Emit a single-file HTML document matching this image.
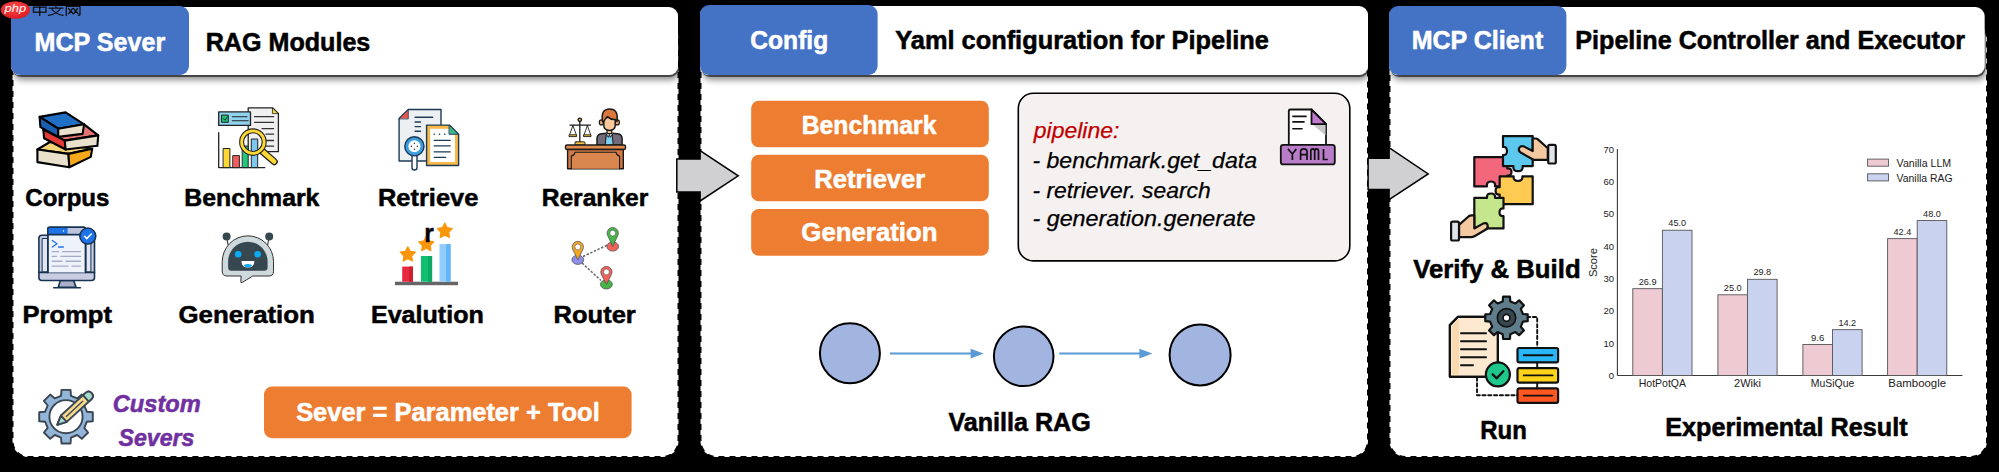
<!DOCTYPE html>
<html><head><meta charset="utf-8"><title>diagram</title>
<style>html,body{margin:0;padding:0;background:#000;width:1999px;height:472px;overflow:hidden}svg{display:block}text{font-family:"Liberation Sans", sans-serif}</style>
</head><body>
<svg width="1999" height="472" viewBox="0 0 1999 472">
<defs>
<filter id="hsh" x="-5%" y="-30%" width="110%" height="170%">
<feOffset in="SourceAlpha" dx="0.8" dy="1.6" result="o1"/>
<feGaussianBlur in="o1" stdDeviation="0.7" result="b1"/>
<feComponentTransfer in="b1" result="s1"><feFuncA type="linear" slope="0.55"/></feComponentTransfer>
<feOffset in="SourceAlpha" dx="2" dy="4.5" result="o2"/>
<feGaussianBlur in="o2" stdDeviation="3.2" result="b2"/>
<feComponentTransfer in="b2" result="s2"><feFuncA type="linear" slope="0.45"/></feComponentTransfer>
<feMerge><feMergeNode in="s2"/><feMergeNode in="s1"/><feMergeNode in="SourceGraphic"/></feMerge>
</filter>
</defs>
<rect x="0" y="0" width="1999" height="472" fill="#000"/>
<rect x="12.5" y="22" width="666.0" height="435" rx="16" fill="#fff" stroke="#000" stroke-width="2" stroke-dasharray="6 5"/>
<rect x="700.5" y="22" width="667.5" height="435" rx="16" fill="#fff" stroke="#000" stroke-width="2" stroke-dasharray="6 5"/>
<rect x="1389.5" y="22" width="597.5" height="435" rx="16" fill="#fff" stroke="#000" stroke-width="2" stroke-dasharray="6 5"/>
<rect x="11" y="7" width="667" height="68" rx="9" fill="#fff" filter="url(#hsh)"/>
<rect x="11" y="6" width="178" height="69" rx="9" fill="#4472c4"/>
<rect x="700" y="6" width="668" height="69" rx="9" fill="#fff" filter="url(#hsh)"/>
<rect x="700" y="5" width="177.60000000000002" height="70" rx="9" fill="#4472c4"/>
<rect x="1389" y="7" width="595.5" height="68" rx="9" fill="#fff" filter="url(#hsh)"/>
<rect x="1389" y="6" width="177.4000000000001" height="69" rx="9" fill="#4472c4"/>
<path d="M676.8,159 H700.1 V150.6 L738.2,175.8 L700.1,201 V192 H676.8 Z" fill="#d0cfd2" stroke="#000" stroke-width="1.5" stroke-linejoin="miter"/>
<path d="M1368.1,158.2 H1389.1 V147.6 L1428.2,173.9 L1389.1,199.7 V189.5 H1368.1 Z" fill="#d0cfd2" stroke="#000" stroke-width="1.5" stroke-linejoin="miter"/>
<rect x="751.2" y="100.7" width="237.6" height="46.60000000000001" rx="7.5" fill="#ed7d31"/>
<rect x="751.2" y="154.8" width="237.6" height="46.5" rx="7.5" fill="#ed7d31"/>
<rect x="751.2" y="209" width="237.6" height="46.80000000000001" rx="7.5" fill="#ed7d31"/>
<rect x="1018.3" y="93.3" width="331.5" height="167.6" rx="15" fill="#f5f1f1" stroke="#000" stroke-width="1.6"/>
<circle cx="849.9" cy="353.3" r="30" fill="#a2b5e0" stroke="#000" stroke-width="2"/>
<circle cx="1023.7" cy="356.3" r="29.8" fill="#a2b5e0" stroke="#000" stroke-width="2"/>
<circle cx="1200.1" cy="354.9" r="30.5" fill="#a2b5e0" stroke="#000" stroke-width="2"/>
<line x1="889.9" y1="353.6" x2="972.6" y2="353.6" stroke="#5b9bd5" stroke-width="2"/>
<path d="M970.6,348.8 L983.6,353.6 L970.6,358.4 Z" fill="#5b9bd5"/>
<line x1="1059.3" y1="353.6" x2="1141.4" y2="353.6" stroke="#5b9bd5" stroke-width="2"/>
<path d="M1139.4,348.8 L1152.4,353.6 L1139.4,358.4 Z" fill="#5b9bd5"/>
<rect x="264" y="386.6" width="367.6" height="51.6" rx="8" fill="#ed7d31"/>
<defs><radialGradient id="wmg" cx="0.45" cy="0.35" r="0.7"><stop offset="0" stop-color="#ff4a4a"/><stop offset="1" stop-color="#d8161c"/></radialGradient></defs>
<ellipse cx="15.4" cy="10" rx="14.6" ry="8.8" fill="url(#wmg)"/>
<text x="4.6" y="11.6" font-size="11.5" font-style="italic" fill="#fff" textLength="21.5" lengthAdjust="spacingAndGlyphs">php</text>
<g fill="none" stroke="#111" stroke-width="1.3" stroke-linecap="round"><rect x="33.5" y="7.2" width="12.5" height="5"/><line x1="39.7" y1="5.7" x2="39.7" y2="15.4"/></g>
<g fill="none" stroke="#111" stroke-width="1.3" stroke-linecap="round"><line x1="55.5" y1="5.5" x2="56.2" y2="7.2"/><line x1="49" y1="8.2" x2="63" y2="8.2"/><path d="M51.5,8.5 Q55,14 63,15.4"/><path d="M60.5,8.5 Q57,14 48.5,15.4"/></g>
<g fill="none" stroke="#111" stroke-width="1.3" stroke-linecap="round"><path d="M66.3,15.5 V6.3 H80 V14.5 Q80,15.5 78.5,15.2"/><path d="M68.5,8.5 L73,13.5 M72.5,8.5 L68.5,13.8 M73.5,8.5 L78,13.5 M77.5,8.5 L73.5,13.8"/></g>
<g stroke="#000" stroke-width="2.1" stroke-linejoin="round">
<path d="M37.4,149.5 L50.0,142.0 L92.2,148.7 L68.5,153.9 Z" fill="#f6d477"/>
<path d="M37.4,149.5 L68.5,153.9 L69.3,167.2 L37.4,162.1 Z" fill="#e9e1cb"/>
<path d="M68.5,153.9 L92.2,148.7 L90.8,156.9 L69.3,167.2 Z" fill="#f7a81b"/>
<path d="M43.3,129.5 L84.1,124.3 L98.2,135.4 L64.8,140.6 Z" fill="#e57373"/>
<path d="M43.3,129.5 L64.8,140.6 L65.6,149.5 L44.1,138.3 Z" fill="#e53935"/>
<path d="M64.8,140.6 L98.2,135.4 L97.4,145.8 L65.6,149.5 Z" fill="#e9e1cb"/>
<path d="M39.6,116.9 L65.6,112.4 L84.1,124.3 L58.2,128.7 Z" fill="#1f6fc5"/>
<path d="M39.6,116.9 L58.2,128.7 L58.2,136.9 L40.4,127.2 Z" fill="#1a5fb0"/>
<path d="M58.2,128.7 L84.1,124.3 L82.6,133.9 L58.2,136.9 Z" fill="#e9e1cb"/>
</g>
<g stroke="#222" stroke-width="1.3" stroke-linejoin="round" stroke-linecap="round">
<path d="M248.2,107.9 H272.8 L278.4,113.5 V151.7 H248.2 Z" fill="#f0f0f0"/>
<path d="M272.8,108.2 L278.2,113.6 H272.8 Z" fill="#fdd835" stroke-width="0.8"/>
<line x1="254.5" y1="116.7" x2="273.6" y2="116.7" stroke-width="1.3" stroke="#333"/>
<line x1="254.5" y1="122.3" x2="273.6" y2="122.3" stroke-width="1.3" stroke="#333"/>
<line x1="262" y1="128.6" x2="273.6" y2="128.6" stroke-width="1.3" stroke="#333"/>
<line x1="266" y1="134.2" x2="273.6" y2="134.2" stroke-width="1.3" stroke="#333"/>
<line x1="266" y1="140.5" x2="273.6" y2="140.5" stroke-width="1.3" stroke="#333"/>
<line x1="266" y1="146.1" x2="273.6" y2="146.1" stroke-width="1.3" stroke="#333"/>
<rect x="218.7" y="111.9" width="31.8" height="13.5" fill="#8fd3ee"/>
<rect x="221.9" y="115.1" width="6.4" height="7.2" fill="#1fbf75" stroke-width="1"/>
<path d="M223.3,118.6 L224.9,120.2 L227.5,116.8" fill="none" stroke-width="0.9"/>
<line x1="232.3" y1="116.7" x2="247" y2="116.7" stroke-width="1.1"/>
<line x1="232.3" y1="120.7" x2="248.2" y2="120.7" stroke-width="1.1"/>
<path d="M218.7,132.6 V167.6 H264.8" fill="none" stroke-width="1.3"/>
<rect x="223.5" y="148.5" width="6.4" height="19.1" fill="#fdd835" stroke-width="1"/>
<rect x="233.1" y="155.6" width="6.3" height="12" fill="#f25c5c" stroke-width="1"/>
<rect x="242.6" y="146.1" width="5.6" height="21.5" fill="#1ec97e" stroke-width="1"/>
<rect x="251.7" y="139" width="6" height="28.6" fill="#7cc8ee" stroke-width="1"/>
<path d="M262,151 L274.2,161.6" stroke="#222" stroke-width="7.2"/>
<path d="M262,151 L274.2,161.6" stroke="#fdd835" stroke-width="4.6"/>
<circle cx="252.9" cy="142.1" r="11.3" fill="none" stroke="#222" stroke-width="5"/>
<circle cx="252.9" cy="142.1" r="11.3" fill="none" stroke="#fdd835" stroke-width="2.8"/>
</g>
<g stroke="#1d3a57" stroke-width="1.4" stroke-linejoin="round" stroke-linecap="round">
<path d="M399.1,118.6 L408.3,109.5 H441 V161 H399.1 Z" fill="#edf0f2"/>
<path d="M399.6,118.6 L408.3,110 V118.6 Z" fill="#e8554e" stroke="none"/>
<path d="M399.1,118.6 L408.3,109.5 V118.6 Z" fill="none" stroke-width="0.8"/>
<line x1="415.1" y1="117.3" x2="432.7" y2="117.3"/>
<line x1="415.1" y1="122" x2="420.5" y2="122"/>
<line x1="415.1" y1="126.6" x2="420.5" y2="126.6"/>
<line x1="415.1" y1="131.2" x2="420.5" y2="131.2"/>
<rect x="412" y="154" width="5" height="16" rx="2.5" fill="#fff"/>
<circle cx="414.4" cy="146.3" r="9.6" fill="#3d9de0"/>
<circle cx="414.4" cy="146.3" r="6" fill="#fff" stroke="none"/>
<circle cx="414.4" cy="143.3" r="0.75" fill="#1d3a57" stroke="none"/>
<circle cx="414.4" cy="149.3" r="0.75" fill="#1d3a57" stroke="none"/>
<circle cx="411.4" cy="146.3" r="0.75" fill="#1d3a57" stroke="none"/>
<circle cx="417.4" cy="146.3" r="0.75" fill="#1d3a57" stroke="none"/>
<path d="M426.6,125.1 H449.4 L458.6,134.3 V165.5 H426.6 Z" fill="#f6b94a"/>
<path d="M430.2,128.7 H448.2 L455,135.5 V161.9 H430.2 Z" fill="#fff" stroke="none"/>
<path d="M449.4,125.3 L458.4,134.3 H449.4 Z" fill="#3db48a" stroke-width="0.9"/>
<circle cx="434.2" cy="134.3" r="0.8" fill="#1d3a57" stroke="none"/>
<circle cx="439.5" cy="134.3" r="0.8" fill="#1d3a57" stroke="none"/>
<circle cx="444.8" cy="134.3" r="0.8" fill="#1d3a57" stroke="none"/>
<line x1="434.2" y1="140.4" x2="450.2" y2="140.4" stroke-width="1.3"/>
<line x1="434.2" y1="145.8" x2="450.2" y2="145.8" stroke-width="1.3"/>
<line x1="434.2" y1="151.8" x2="450.2" y2="151.8" stroke-width="1.3"/>
<line x1="434.2" y1="157.3" x2="445.7" y2="157.3" stroke-width="1.3"/>
</g>
<g stroke="#1a1a1a" stroke-width="1.4" stroke-linejoin="round" stroke-linecap="round">
<path d="M597,145 V138.8 Q597,134.2 601.5,133.8 L607,133.2 H611.6 L617.5,133.8 Q622.1,134.2 622.1,138.8 V145 Z" fill="#716b7c" stroke-width="1.5"/>
<path d="M606.6,134.5 H612.2 L613.2,145 H605.6 Z" fill="#7fd0ee" stroke-width="1"/>
<path d="M605.6,133.2 L608.4,137.3 L609.4,134.6 L610.4,137.3 L613.2,133.2" fill="#e8f4f8" stroke-width="1"/>
<rect x="607.1" y="129.4" width="4.6" height="4.2" fill="#f8c49a" stroke-width="1.2"/>
<ellipse cx="601.4" cy="122.4" rx="2.1" ry="2.5" fill="#f2a46e" stroke-width="1.2"/>
<ellipse cx="617.3" cy="122.4" rx="2.1" ry="2.5" fill="#f2a46e" stroke-width="1.2"/>
<path d="M603.8,117.5 V125 Q603.8,130.4 609.5,130.4 Q615.2,130.4 615.2,125 V117.5 Z" fill="#f9c89b" stroke-width="1.5"/>
<path d="M602.6,121.8 Q600.4,109 609.6,109 Q618.8,109 616.9,121.5 L615.3,119.5 Q611,120 607.6,116.6 Q605,118.4 603.8,121.6 Z" fill="#d9773f" stroke-width="1.5"/>
<line x1="579.8" y1="120.5" x2="579.8" y2="142" stroke-width="1.3"/>
<line x1="569.9" y1="125.1" x2="590.5" y2="125.1" stroke-width="1.3"/>
<circle cx="579.8" cy="119.8" r="1.7" fill="#f5c242"/>
<path d="M572.9,125.5 L569.7,134.5 M572.9,125.5 L576.2,134.5 M587.4,125.5 L584.2,134.5 M587.4,125.5 L590.6,134.5" fill="none" stroke-width="0.9"/>
<path d="M569.4,134.8 H576.6 V136.6 H569.4 Z M583.9,134.8 H591 V136.6 H583.9 Z" fill="#f5c242" stroke-width="0.9"/>
<rect x="575" y="141.8" width="10" height="3.2" rx="1" fill="#f5c242" stroke-width="0.9"/>
<rect x="565.5" y="145" width="60" height="4.5" rx="1.6" fill="#e08a4e"/>
<rect x="567.6" y="149.5" width="55.7" height="19.2" fill="#d07a45"/>
<path d="M571.3,168.7 V156 Q574.5,155.5 575,152.3 H616 Q616.5,155.5 619.6,156 V168.7" fill="#d9874f" stroke-width="1.1"/>
</g>
<g stroke="#163352" stroke-width="1.6" stroke-linejoin="round" stroke-linecap="round">
<path d="M60.4,280.5 H73.7 L76,287.2 H58.2 Z" fill="#aab0c8"/>
<line x1="53.7" y1="287.8" x2="80.4" y2="287.8" stroke-width="1.5"/>
<rect x="38.9" y="235.3" width="55.6" height="45.2" rx="3" fill="#c8cce0"/>
<rect x="42.5" y="238.5" width="48.4" height="33.5" fill="#e3e6f2" stroke-width="1"/>
<path d="M38.9,272.4 H94.5" fill="none"/>
<path d="M47.8,272.4 V229 Q47.8,227.2 49.6,227.2 H83.8 Q85.6,227.2 85.6,229 V272.4" fill="#eef2fb"/>
<path d="M48.4,227.8 H67.8 V234.4 H48.4 Z" fill="#1e73e8" stroke="none"/>
<path d="M67.8,227.8 H85 V234.4 H67.8 Z" fill="#bcc3dc" stroke="none"/>
<path d="M47.8,234.6 H85.6" fill="none"/>
<path d="M47.8,272.4 V229 Q47.8,227.2 49.6,227.2 H83.8 Q85.6,227.2 85.6,229 V272.4" fill="none"/>
<circle cx="63.5" cy="231" r="0.7" fill="#fff" stroke="none"/>
<path d="M52.3,240.5 L57,243.8 L52.3,247" fill="none" stroke="#1e73e8" stroke-width="1.3"/>
<line x1="58.5" y1="247" x2="63.4" y2="247" stroke="#1e73e8" stroke-width="1.3"/>
<line x1="52.3" y1="251.6" x2="58.5" y2="251.6" stroke="#a7acc6" stroke-width="1.4"/>
<line x1="62.5" y1="251.6" x2="80.4" y2="251.6" stroke="#a7acc6" stroke-width="1.4"/>
<line x1="52.3" y1="256.4" x2="56.5" y2="256.4" stroke="#a7acc6" stroke-width="1.4"/>
<line x1="61" y1="256.4" x2="80.4" y2="256.4" stroke="#a7acc6" stroke-width="1.4"/>
<line x1="52.3" y1="261.3" x2="62" y2="261.3" stroke="#a7acc6" stroke-width="1.4"/>
<line x1="66" y1="261.3" x2="80.4" y2="261.3" stroke="#a7acc6" stroke-width="1.4"/>
<line x1="52.3" y1="266.1" x2="68" y2="266.1" stroke="#a7acc6" stroke-width="1.4"/>
<line x1="72" y1="266.1" x2="80.4" y2="266.1" stroke="#a7acc6" stroke-width="1.4"/>
<circle cx="87.8" cy="236.1" r="8" fill="#1e73e8" stroke-width="1.5"/>
<path d="M84.5,236.3 L86.8,238.6 L91.2,234" fill="none" stroke="#fff" stroke-width="1.6"/>
</g>
<g stroke-linejoin="round" stroke-linecap="round">
<line x1="226.6" y1="236.5" x2="228.1" y2="245" stroke="#263238" stroke-width="1.1"/>
<line x1="269.2" y1="236.5" x2="267.6" y2="245" stroke="#263238" stroke-width="1.1"/>
<circle cx="226.6" cy="236.5" r="4" fill="#37474f"/>
<circle cx="269.2" cy="236.5" r="4" fill="#37474f"/>
<path d="M222.2,261.5 A25.65,25.65 0 0 1 273.5,261.5 V271.4 Q273.5,276 268.9,276 H252.8 L242,282.6 Q240.6,283.2 240.8,281.6 L241.1,276 H226.8 Q222.2,276 222.2,271.4 Z" fill="#cfd8dc" stroke="#333" stroke-width="1"/>
<path d="M228.1,261.5 A19.75,19.75 0 0 1 267.6,261.5 V267.4 Q267.6,270.7 264.3,270.7 H231.4 Q228.1,270.7 228.1,267.4 Z" fill="#37474f"/>
<circle cx="238.2" cy="254.3" r="3.3" fill="#0aaaf5"/>
<circle cx="257.6" cy="254.3" r="3.3" fill="#0aaaf5"/>
<path d="M241.4,261 H254.4 Q254.2,267.6 247.9,267.6 Q241.6,267.6 241.4,261 Z" fill="#fff"/>
<path d="M243.6,265.2 Q247.9,262.8 252.2,265.2 Q250.5,267.4 247.9,267.4 Q245.3,267.4 243.6,265.2 Z" fill="#0aaaf5"/>
</g>
<rect x="395" y="281.7" width="63" height="3.5" fill="#666"/>
<rect x="402.2" y="266.6" width="10.8" height="15.1" fill="#e8283c"/>
<rect x="421" y="256" width="11.1" height="25.7" fill="#10bf70"/>
<rect x="439.5" y="244.1" width="11.1" height="37.6" fill="#90cdfb"/>
<rect x="446" y="244.1" width="4.6" height="37.6" fill="#64b5f6"/>
<rect x="409" y="266.6" width="4" height="15.1" fill="#cf1d33"/>
<rect x="428" y="256" width="4.1" height="25.7" fill="#0aa863"/>
<path d="M407.8,246.7 L410.2,251.3 L415.3,252.2 L411.7,255.9 L412.4,261.0 L407.8,258.7 L403.2,261.0 L403.9,255.9 L400.3,252.2 L405.4,251.3 Z" fill="#fa960a" stroke="#fa960a" stroke-width="1.2" stroke-linejoin="round"/>
<path d="M426.3,236.3 L428.7,240.9 L433.8,241.8 L430.2,245.5 L430.9,250.6 L426.3,248.3 L421.7,250.6 L422.4,245.5 L418.8,241.8 L423.9,240.9 Z" fill="#fa960a" stroke="#fa960a" stroke-width="1.2" stroke-linejoin="round"/>
<path d="M444.8,223.1 L447.2,227.7 L452.3,228.6 L448.7,232.3 L449.4,237.4 L444.8,235.1 L440.2,237.4 L440.9,232.3 L437.3,228.6 L442.4,227.7 Z" fill="#fa960a" stroke="#fa960a" stroke-width="1.2" stroke-linejoin="round"/>
<text x="424.3" y="241.5" font-size="26.5" font-weight="bold" fill="#000" stroke="#000" stroke-width="0.4" textLength="9.6" lengthAdjust="spacingAndGlyphs">r</text>
<path d="M583,256.5 L607.5,245 M582,263 L601,280.5" stroke="#666" stroke-width="1.5" stroke-dasharray="2.4 1.6" fill="none"/>
<ellipse cx="577.8" cy="259.8" rx="5.9" ry="4.6" fill="#8d8fe8" stroke="#555" stroke-width="0.8"/>
<path d="M577.8,259.8 L572.6479999999999,249.14000000000001 A5.6,5.6 0 1 1 582.952,249.14000000000001 Z" fill="#f5a623" stroke="#555" stroke-width="0.8" stroke-linejoin="round"/>
<circle cx="577.8" cy="246.9" r="2.9" fill="#fff" stroke="#555" stroke-width="0.6"/>
<ellipse cx="612.7" cy="246.5" rx="5.9" ry="4.6" fill="#f0625a" stroke="#555" stroke-width="0.8"/>
<path d="M612.7,246.5 L607.548,235.34 A5.6,5.6 0 1 1 617.8520000000001,235.34 Z" fill="#46b649" stroke="#555" stroke-width="0.8" stroke-linejoin="round"/>
<circle cx="612.7" cy="233.1" r="2.9" fill="#fff" stroke="#555" stroke-width="0.6"/>
<ellipse cx="606.4" cy="284.4" rx="5.9" ry="4.6" fill="#46b649" stroke="#555" stroke-width="0.8"/>
<path d="M606.4,284.4 L601.2479999999999,274.24 A5.6,5.6 0 1 1 611.552,274.24 Z" fill="#f0625a" stroke="#555" stroke-width="0.8" stroke-linejoin="round"/>
<circle cx="606.4" cy="272.0" r="2.9" fill="#fff" stroke="#555" stroke-width="0.6"/>
<g stroke="#3b4654" stroke-width="1.9" stroke-linejoin="round">
<path d="M86.9,411.7 L92.8,412.2 L92.8,421.2 L86.9,421.7 L84.3,427.9 L88.1,432.5 L81.8,438.8 L77.2,435.0 L71.0,437.6 L70.5,443.5 L61.5,443.5 L61.0,437.6 L54.8,435.0 L50.2,438.8 L43.9,432.5 L47.7,427.9 L45.1,421.7 L39.2,421.2 L39.2,412.2 L45.1,411.7 L47.7,405.5 L43.9,400.9 L50.2,394.6 L54.8,398.4 L61.0,395.8 L61.5,389.9 L70.5,389.9 L71.0,395.8 L77.2,398.4 L81.8,394.6 L88.1,400.9 L84.3,405.5 Z" fill="#93b5d8"/>
<circle cx="66" cy="416.7" r="16.6" fill="#fff"/>
<g transform="translate(57.2,424.8) rotate(-42.6)">
<path d="M0,0 L9,-4.3 H42.5 Q46.8,-4.3 46.8,0 Q46.8,4.3 42.5,4.3 H9 Z" fill="#f6da8a"/>
<path d="M0,0 L9,-4.3 V4.3 Z" fill="#a6dccb"/>
<path d="M39,-4.3 H42.5 Q46.8,-4.3 46.8,0 Q46.8,4.3 42.5,4.3 H39 Z" fill="#a6dccb"/>
<line x1="12" y1="0" x2="35" y2="0" stroke-width="1.4"/>
</g></g>
<g stroke="#111" stroke-width="1.8" stroke-linejoin="round" stroke-linecap="round">
<path d="M1288.8,144.8 V111 Q1288.8,109.5 1290.3,109.5 H1311.5 L1326,124 V144.8" fill="#fff"/>
<path d="M1312.7,124.6 H1325.5 L1325.5,135.4 Z" fill="#c8c8c8" stroke="none"/>
<path d="M1311.5,109.5 V124.2 H1326 Z" fill="#c07ad0"/>
<line x1="1292.9" y1="116.4" x2="1306" y2="116.4" stroke-width="1.6"/>
<line x1="1292.9" y1="121.9" x2="1304" y2="121.9" stroke-width="1.6"/>
<line x1="1292.9" y1="128.8" x2="1302" y2="128.8" stroke-width="1.6"/>
<rect x="1280.8" y="144.8" width="54" height="19.6" rx="2.5" fill="#b87cc9"/>
<path d="M1287.9,148.9 L1292.4,154 L1296.3,148.9 M1292.4,154 V160 M1300.6,160 V151.6 Q1300.6,148.9 1303.8,148.9 Q1307,148.9 1307,151.6 V160 M1300.6,154.6 H1307 M1310.8,160 V151.3 Q1310.8,148.9 1312.8,148.9 Q1314.7,148.9 1314.7,151.3 V160 M1314.7,151.3 Q1314.7,148.9 1316.6,148.9 Q1318.5,148.9 1318.5,151.3 V160 M1323.5,148.9 V159.5 H1327.8" fill="none" stroke="#111" stroke-width="1.7" stroke-linecap="butt" stroke-linejoin="miter"/>
</g>
<g stroke="#111" stroke-width="2.2" stroke-linejoin="round">
<path d="M1474.3,157.2 H1507.3 V168.5 Q1511.5,168 1511.5,172 Q1511.5,176 1507.3,175.5 V186.4 H1495 Q1495.8,181.5 1491,181.5 Q1486.2,181.5 1487,186.4 H1474.3 Z" fill="#f2677c"/>
<path d="M1503,136.1 H1532.7 V166.1 H1522.6 Q1523.2,171.2 1518,171.2 Q1512.8,171.2 1513.4,166.1 H1503 V155 Q1507,155.5 1507,151 Q1507,146.5 1503,147 Z" fill="#5cc8ee"/>
<path d="M1507.3,176.3 H1513.6 Q1513.2,181 1518,181 Q1522.8,181 1522.4,176.3 H1532.7 V204.2 H1499.7 V194.5 Q1495.6,195 1495.6,190.8 Q1495.6,186.6 1499.7,187.1 V176.3 Z" fill="#fecb52"/>
<path d="M1474.3,197.9 H1487 Q1486.5,193.5 1491,193.5 Q1495.5,193.5 1495,197.9 H1503.5 V208.5 Q1499.5,208 1499.5,212.3 Q1499.5,216.6 1503.5,216.1 V228.4 H1474.3 Z" fill="#c5e68c"/>
<path d="M1532.7,138.5 H1535.5 Q1537,138.5 1538.2,139.6 L1547.8,148.2 V159.8 H1533.5 L1521,152.8 Q1517.8,150.8 1519.3,147.8 Q1521,145 1524.3,146.6 L1532.7,151 Z" fill="#f4c8a0"/>
<rect x="1548.2" y="144.9" width="7.6" height="18.6" rx="1.6" fill="#dfe4ea"/>
<path d="M1459,224.8 L1468.5,216.5 Q1470,215.4 1471.5,215.4 H1474.3 V228.5 L1483,223.6 Q1486.3,222 1487.6,225 Q1488.6,228 1485.5,229.8 L1474.5,236.2 Q1473,237.2 1471,237.2 H1459 Z" fill="#f4c8a0"/>
<rect x="1451.1" y="221.6" width="7.9" height="18.9" rx="1.6" fill="#dfe4ea"/>
</g>
<g stroke="#111" stroke-width="2.2" stroke-linejoin="round" stroke-linecap="round">
<path d="M1527,317 H1537.2 V348" fill="none" stroke-dasharray="3.2 2.6" stroke-width="1.9"/>
<path d="M1477,377.5 V395.3 H1517.5" fill="none" stroke-dasharray="3.2 2.6" stroke-width="1.9"/>
<path d="M1458,316.8 H1497.9 V376.8 H1449.9 V325 Z" fill="#fde9cf"/>
<path d="M1452.2,326 L1458.8,319.2 V374.6 H1452.2 Z" fill="#f8d9b0" stroke="none"/>
<path d="M1458,316.8 H1497.9 V376.8 H1449.9 V325 Z" fill="none"/>
<line x1="1461" y1="333.3" x2="1486" y2="333.3" stroke-width="2"/>
<line x1="1461" y1="341.2" x2="1486" y2="341.2" stroke-width="2"/>
<line x1="1461" y1="349.2" x2="1486" y2="349.2" stroke-width="2"/>
<line x1="1461" y1="357.2" x2="1486" y2="357.2" stroke-width="2"/>
<line x1="1461" y1="365.2" x2="1473" y2="365.2" stroke-width="2"/>
<rect x="1517.5" y="348" width="40.6" height="14.4" rx="1.8" fill="#29b6f6"/>
<line x1="1523.7" y1="355.2" x2="1552.5" y2="355.2" stroke-width="1.9"/>
<rect x="1517.5" y="368.2" width="40.6" height="14.4" rx="1.8" fill="#ffd31a"/>
<line x1="1523.7" y1="375.4" x2="1552.5" y2="375.4" stroke-width="1.9"/>
<rect x="1517.5" y="388.4" width="40.6" height="14.4" rx="1.8" fill="#ff5722"/>
<line x1="1523.7" y1="395.59999999999997" x2="1552.5" y2="395.59999999999997" stroke-width="1.9"/>
<line x1="1537.2" y1="362.4" x2="1537.2" y2="368.2" stroke-width="1.9"/>
<line x1="1537.2" y1="382.6" x2="1537.2" y2="388.4" stroke-width="1.9"/>
<path d="M1522.9,314.0 L1527.7,314.4 L1527.7,321.2 L1522.9,321.6 L1520.8,326.7 L1523.9,330.4 L1519.1,335.2 L1515.4,332.1 L1510.3,334.2 L1509.9,339.0 L1503.1,339.0 L1502.7,334.2 L1497.6,332.1 L1493.9,335.2 L1489.1,330.4 L1492.2,326.7 L1490.1,321.6 L1485.3,321.2 L1485.3,314.4 L1490.1,314.0 L1492.2,308.9 L1489.1,305.2 L1493.9,300.4 L1497.6,303.5 L1502.7,301.4 L1503.1,296.6 L1509.9,296.6 L1510.3,301.4 L1515.4,303.5 L1519.1,300.4 L1523.9,305.2 L1520.8,308.9 Z" fill="#607d8b"/>
<circle cx="1506.5" cy="317.8" r="9.2" fill="#37474f" stroke-width="1.6"/>
<circle cx="1506.5" cy="317.8" r="3.4" fill="#fff" stroke-width="1.6"/>
<circle cx="1497.9" cy="374.4" r="12" fill="#1ec88a"/>
<path d="M1492.6,374.3 L1496.8,378.3 L1503.3,371.2" fill="none" stroke-width="2.3"/>
</g>
<line x1="1617.4" y1="149.1" x2="1617.4" y2="375.5" stroke="#3a3a3a" stroke-width="1.1"/>
<line x1="1617.4" y1="375.5" x2="1962.4" y2="375.5" stroke="#3a3a3a" stroke-width="1.1"/>
<text x="1608.80" y="378.80" font-size="9.3" fill="#222" textLength="5.3" lengthAdjust="spacingAndGlyphs">0</text>
<text x="1603.50" y="346.52" font-size="9.3" fill="#222" textLength="10.6" lengthAdjust="spacingAndGlyphs">10</text>
<text x="1603.50" y="314.24" font-size="9.3" fill="#222" textLength="10.6" lengthAdjust="spacingAndGlyphs">20</text>
<text x="1603.50" y="281.96" font-size="9.3" fill="#222" textLength="10.6" lengthAdjust="spacingAndGlyphs">30</text>
<text x="1603.50" y="249.68" font-size="9.3" fill="#222" textLength="10.6" lengthAdjust="spacingAndGlyphs">40</text>
<text x="1603.50" y="217.40" font-size="9.3" fill="#222" textLength="10.6" lengthAdjust="spacingAndGlyphs">50</text>
<text x="1603.50" y="185.12" font-size="9.3" fill="#222" textLength="10.6" lengthAdjust="spacingAndGlyphs">60</text>
<text x="1603.50" y="152.84" font-size="9.3" fill="#222" textLength="10.6" lengthAdjust="spacingAndGlyphs">70</text>
<rect x="1632.80" y="288.67" width="29.6" height="86.83" fill="#eecad3" stroke="#555" stroke-width="0.9"/>
<rect x="1662.40" y="230.24" width="29.6" height="145.26" fill="#c9d3ef" stroke="#555" stroke-width="0.9"/>
<text x="1638.70" y="284.67" font-size="9.3" fill="#222" textLength="17.8" lengthAdjust="spacingAndGlyphs">26.9</text>
<text x="1668.30" y="226.24" font-size="9.3" fill="#222" textLength="17.8" lengthAdjust="spacingAndGlyphs">45.0</text>
<text x="1638.75" y="386.7" font-size="10.3" fill="#222" textLength="47.3" lengthAdjust="spacingAndGlyphs">HotPotQA</text>
<rect x="1717.90" y="294.80" width="29.6" height="80.70" fill="#eecad3" stroke="#555" stroke-width="0.9"/>
<rect x="1747.50" y="279.31" width="29.6" height="96.19" fill="#c9d3ef" stroke="#555" stroke-width="0.9"/>
<text x="1723.80" y="290.80" font-size="9.3" fill="#222" textLength="17.8" lengthAdjust="spacingAndGlyphs">25.0</text>
<text x="1753.40" y="275.31" font-size="9.3" fill="#222" textLength="17.8" lengthAdjust="spacingAndGlyphs">29.8</text>
<text x="1734.10" y="386.7" font-size="10.3" fill="#222" textLength="26.8" lengthAdjust="spacingAndGlyphs">2Wiki</text>
<rect x="1802.90" y="344.51" width="29.6" height="30.99" fill="#eecad3" stroke="#555" stroke-width="0.9"/>
<rect x="1832.50" y="329.66" width="29.6" height="45.84" fill="#c9d3ef" stroke="#555" stroke-width="0.9"/>
<text x="1811.05" y="340.51" font-size="9.3" fill="#222" textLength="13.3" lengthAdjust="spacingAndGlyphs">9.6</text>
<text x="1838.40" y="325.66" font-size="9.3" fill="#222" textLength="17.8" lengthAdjust="spacingAndGlyphs">14.2</text>
<text x="1810.75" y="386.7" font-size="10.3" fill="#222" textLength="43.5" lengthAdjust="spacingAndGlyphs">MuSiQue</text>
<rect x="1887.60" y="238.63" width="29.6" height="136.87" fill="#eecad3" stroke="#555" stroke-width="0.9"/>
<rect x="1917.20" y="220.56" width="29.6" height="154.94" fill="#c9d3ef" stroke="#555" stroke-width="0.9"/>
<text x="1893.50" y="234.63" font-size="9.3" fill="#222" textLength="17.8" lengthAdjust="spacingAndGlyphs">42.4</text>
<text x="1923.10" y="216.56" font-size="9.3" fill="#222" textLength="17.8" lengthAdjust="spacingAndGlyphs">48.0</text>
<text x="1888.30" y="386.7" font-size="10.3" fill="#222" textLength="57.8" lengthAdjust="spacingAndGlyphs">Bamboogle</text>
<text transform="translate(1597.1,277.1) rotate(-90)" font-size="10.6" fill="#222" textLength="29" lengthAdjust="spacingAndGlyphs">Score</text>
<rect x="1867.6" y="159.1" width="20.9" height="7.1" fill="#eecad3" stroke="#555" stroke-width="0.9"/>
<rect x="1867.6" y="173.8" width="20.9" height="7.1" fill="#c9d3ef" stroke="#555" stroke-width="0.9"/>
<text x="1896.6" y="166.8" font-size="10.4" fill="#222" textLength="54.6" lengthAdjust="spacingAndGlyphs">Vanilla LLM</text>
<text x="1896.6" y="181.5" font-size="10.4" fill="#222" textLength="56" lengthAdjust="spacingAndGlyphs">Vanilla RAG</text>
<text x="34.60" y="50.62" stroke="#fff" stroke-width="0.55" stroke-linejoin="round" font-size="25.77" font-weight="bold" font-style="normal" fill="#fff" textLength="130.64" lengthAdjust="spacingAndGlyphs" >MCP Sever</text>
<text x="205.70" y="50.62" stroke="#000" stroke-width="0.55" stroke-linejoin="round" font-size="25.77" font-weight="bold" font-style="normal" fill="#000" textLength="164.64" lengthAdjust="spacingAndGlyphs" >RAG Modules</text>
<text x="750.31" y="49.33" stroke="#fff" stroke-width="0.55" stroke-linejoin="round" font-size="25.49" font-weight="bold" font-style="normal" fill="#fff" textLength="77.92" lengthAdjust="spacingAndGlyphs" >Config</text>
<text x="895.27" y="49.33" stroke="#000" stroke-width="0.55" stroke-linejoin="round" font-size="25.49" font-weight="bold" font-style="normal" fill="#000" textLength="373.61" lengthAdjust="spacingAndGlyphs" >Yaml configuration for Pipeline</text>
<text x="1411.70" y="49.33" stroke="#fff" stroke-width="0.55" stroke-linejoin="round" font-size="25.49" font-weight="bold" font-style="normal" fill="#fff" textLength="131.52" lengthAdjust="spacingAndGlyphs" >MCP Client</text>
<text x="1575.29" y="49.33" stroke="#000" stroke-width="0.55" stroke-linejoin="round" font-size="25.49" font-weight="bold" font-style="normal" fill="#000" textLength="389.75" lengthAdjust="spacingAndGlyphs" >Pipeline Controller and Executor</text>
<text x="25.30" y="206.32" stroke="#000" stroke-width="0.55" stroke-linejoin="round" font-size="24.65" font-weight="bold" font-style="normal" fill="#000" textLength="84.11" lengthAdjust="spacingAndGlyphs" >Corpus</text>
<text x="184.27" y="206.32" stroke="#000" stroke-width="0.55" stroke-linejoin="round" font-size="24.65" font-weight="bold" font-style="normal" fill="#000" textLength="135.16" lengthAdjust="spacingAndGlyphs" >Benchmark</text>
<text x="377.94" y="206.32" stroke="#000" stroke-width="0.55" stroke-linejoin="round" font-size="24.65" font-weight="bold" font-style="normal" fill="#000" textLength="100.41" lengthAdjust="spacingAndGlyphs" >Retrieve</text>
<text x="541.68" y="206.32" stroke="#000" stroke-width="0.55" stroke-linejoin="round" font-size="24.65" font-weight="bold" font-style="normal" fill="#000" textLength="106.64" lengthAdjust="spacingAndGlyphs" >Reranker</text>
<text x="22.44" y="323.33" stroke="#000" stroke-width="0.55" stroke-linejoin="round" font-size="24.65" font-weight="bold" font-style="normal" fill="#000" textLength="89.50" lengthAdjust="spacingAndGlyphs" >Prompt</text>
<text x="178.53" y="323.33" stroke="#000" stroke-width="0.55" stroke-linejoin="round" font-size="24.65" font-weight="bold" font-style="normal" fill="#000" textLength="136.30" lengthAdjust="spacingAndGlyphs" >Generation</text>
<text x="370.96" y="323.33" stroke="#000" stroke-width="0.55" stroke-linejoin="round" font-size="24.65" font-weight="bold" font-style="normal" fill="#000" textLength="112.84" lengthAdjust="spacingAndGlyphs" >Evalution</text>
<text x="553.64" y="323.33" stroke="#000" stroke-width="0.55" stroke-linejoin="round" font-size="24.65" font-weight="bold" font-style="normal" fill="#000" textLength="82.16" lengthAdjust="spacingAndGlyphs" >Router</text>
<text x="112.71" y="411.62" stroke="#7030a0" stroke-width="0.55" stroke-linejoin="round" font-size="24.65" font-weight="bold" font-style="italic" fill="#7030a0" textLength="88.08" lengthAdjust="spacingAndGlyphs" >Custom</text>
<text x="118.58" y="446.03" stroke="#7030a0" stroke-width="0.55" stroke-linejoin="round" font-size="24.09" font-weight="bold" font-style="italic" fill="#7030a0" textLength="75.83" lengthAdjust="spacingAndGlyphs" >Severs</text>
<text x="296.17" y="421.43" stroke="#fff" stroke-width="0.55" stroke-linejoin="round" font-size="25.21" font-weight="bold" font-style="normal" fill="#fff" textLength="303.56" lengthAdjust="spacingAndGlyphs" >Sever = Parameter + Tool</text>
<text x="801.70" y="133.62" stroke="#fff" stroke-width="0.55" stroke-linejoin="round" font-size="25.35" font-weight="bold" font-style="normal" fill="#fff" textLength="134.73" lengthAdjust="spacingAndGlyphs" >Benchmark</text>
<text x="814.37" y="187.92" stroke="#fff" stroke-width="0.55" stroke-linejoin="round" font-size="25.35" font-weight="bold" font-style="normal" fill="#fff" textLength="110.92" lengthAdjust="spacingAndGlyphs" >Retriever</text>
<text x="801.36" y="241.32" stroke="#fff" stroke-width="0.55" stroke-linejoin="round" font-size="25.35" font-weight="bold" font-style="normal" fill="#fff" textLength="136.17" lengthAdjust="spacingAndGlyphs" >Generation</text>
<text x="1033.83" y="137.68" stroke="#c00000" stroke-width="0.25" stroke-linejoin="round" font-size="22.84" font-weight="normal" font-style="italic" fill="#c00000" textLength="85.59" lengthAdjust="spacingAndGlyphs" >pipeline:</text>
<text x="1032.41" y="167.57" stroke="#000" stroke-width="0.25" stroke-linejoin="round" font-size="22.84" font-weight="normal" font-style="italic" fill="#000" textLength="224.67" lengthAdjust="spacingAndGlyphs" >- benchmark.get_data</text>
<text x="1032.42" y="197.68" stroke="#000" stroke-width="0.25" stroke-linejoin="round" font-size="22.84" font-weight="normal" font-style="italic" fill="#000" textLength="178.35" lengthAdjust="spacingAndGlyphs" >- retriever. search</text>
<text x="1032.40" y="226.47" stroke="#000" stroke-width="0.25" stroke-linejoin="round" font-size="22.84" font-weight="normal" font-style="italic" fill="#000" textLength="223.18" lengthAdjust="spacingAndGlyphs" >- generation.generate</text>
<text x="948.48" y="431.43" stroke="#000" stroke-width="0.55" stroke-linejoin="round" font-size="24.93" font-weight="bold" font-style="normal" fill="#000" textLength="142.24" lengthAdjust="spacingAndGlyphs" >Vanilla RAG</text>
<text x="1413.28" y="277.53" stroke="#000" stroke-width="0.55" stroke-linejoin="round" font-size="25.35" font-weight="bold" font-style="normal" fill="#000" textLength="167.35" lengthAdjust="spacingAndGlyphs" >Verify &amp; Build</text>
<text x="1480.23" y="438.62" stroke="#000" stroke-width="0.55" stroke-linejoin="round" font-size="25.35" font-weight="bold" font-style="normal" fill="#000" textLength="46.59" lengthAdjust="spacingAndGlyphs" >Run</text>
<text x="1665.16" y="435.62" stroke="#000" stroke-width="0.55" stroke-linejoin="round" font-size="24.93" font-weight="bold" font-style="normal" fill="#000" textLength="242.46" lengthAdjust="spacingAndGlyphs" >Experimental Result</text>
</svg>
</body></html>
